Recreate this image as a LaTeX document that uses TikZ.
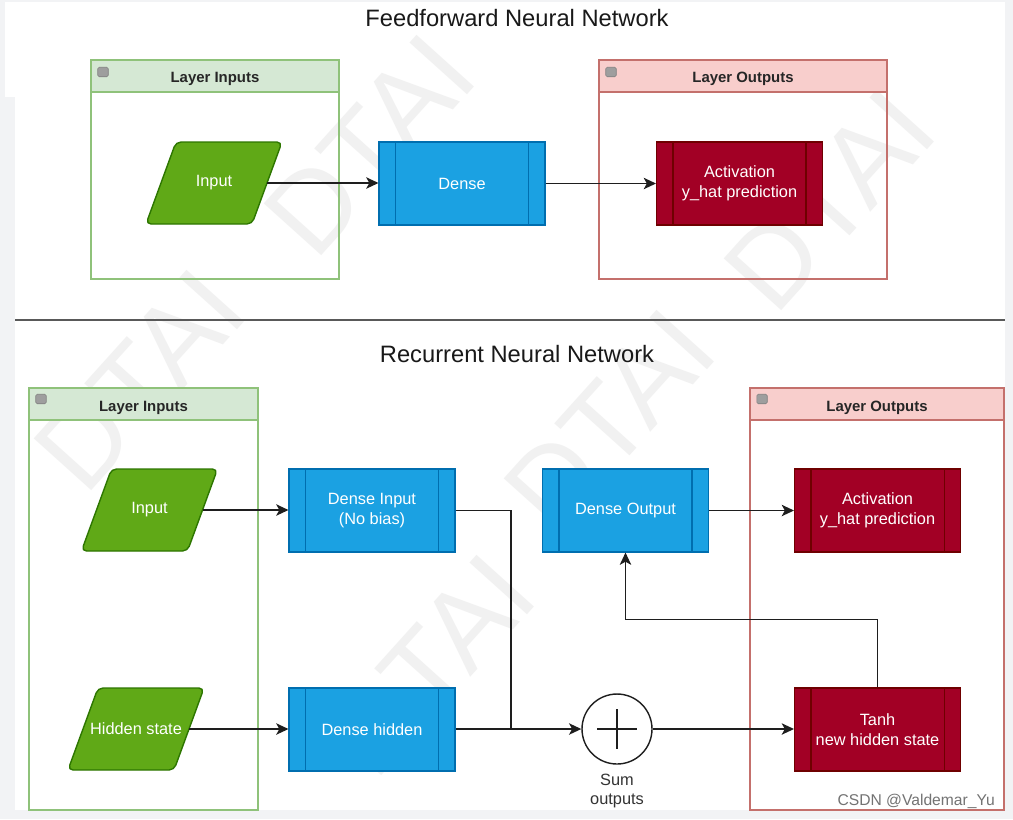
\documentclass[tikz,border=0pt]{standalone}
\usepackage{fontspec}
\setmainfont{Liberation Sans}
\usetikzlibrary{arrows.meta,calc}
\definecolor{bggray}{HTML}{F2F3F5}
\definecolor{gfill}{HTML}{60A917}
\definecolor{gline}{HTML}{2D7600}
\definecolor{bfill}{HTML}{1BA1E2}
\definecolor{bline}{HTML}{006EAF}
\definecolor{rfill}{HTML}{A20025}
\definecolor{rline}{HTML}{6F0000}
\definecolor{ghdr}{HTML}{D5E8D4}
\definecolor{gcont}{HTML}{8FC27A}
\definecolor{rhdr}{HTML}{F8CECC}
\definecolor{rcont}{HTML}{C4706C}
\definecolor{conn}{HTML}{1E1E1E}
\definecolor{wm}{HTML}{F1F1F1}
\newcommand{\mypara}[4]{%
  \coordinate (#1c) at (#2,#3);
  \draw[parashape] ($(#1c)+(-38,-41)$) -- ($(#1c)+(68,-41)$) -- ($(#1c)+(38,41)$) -- ($(#1c)+(-68,41)$) -- cycle;
  \node[paratext] (#1) at (#1c) {#4};}
\begin{document}
\begin{tikzpicture}[x=0.02cm,y=-0.02cm,
  title/.style={font=\fontsize{13.5}{16}\selectfont, text=black!90},
  cont/.style={rectangle, line width=0.7pt, inner sep=0pt},
  hdr/.style={rectangle, line width=0.7pt, minimum height=0.64cm, inner sep=0pt, text height=1.6ex, text depth=0.1ex, font=\bfseries\fontsize{8.5}{10}\selectfont, text=black!85},
  boxtext/.style={text=white, font=\fontsize{9.3}{11.5}\selectfont, align=center},
  proc/.style={rectangle, boxtext, line width=0.6pt, minimum width=3.32cm, minimum height=1.66cm, inner sep=0pt},
  bproc/.style={proc, fill=bfill, draw=bline},
  rproc/.style={proc, fill=rfill, draw=rline},
  parashape/.style={fill=gfill, draw=gline, line width=0.8pt, rounded corners=0.1cm},
  paratext/.style={rectangle, boxtext, minimum width=2.12cm, minimum height=1.66cm, inner sep=0pt},
  line/.style={draw=conn, line width=0.85pt},
  arr/.style={line, -{Stealth[length=7pt,width=6.5pt,inset=1.8pt]}},
  minus/.style={rectangle, fill=black!38, draw=black!50, line width=0.3pt, rounded corners=0.03cm, minimum width=0.21cm, minimum height=0.19cm, inner sep=0pt},
  wmark/.style={text=wm, font=\fontsize{64}{64}\selectfont, rotate=48}
]
\useasboundingbox (0,0) rectangle (1013,819);
\fill[bggray] (0,0) rectangle (1013,819);
\fill[white] (15,2) rectangle (1005,810);
\fill[white] (5,2) rectangle (1005,97);

% watermark
\node[wmark] (wm1) at (370,145) {DTAI};
\node[wmark] (wm2) at (830,200) {DTAI};
\node[wmark] (wm3) at (140,380) {DTAI};
\node[wmark] (wm4) at (610,420) {DTAI};
\node[wmark] (wm5) at (430,665) {DTAI};

% titles and separator
\node[title] (t1) at (517,18) {Feedforward Neural Network};
\node[title] (t2) at (517,354) {Recurrent Neural Network};
\coordinate (sepL) at (15,320);
\coordinate (sepR) at (1005,320);
\draw[draw=black!65, line width=1.1pt] (sepL) -- (sepR);

% ---------- Feedforward ----------
\node[cont, draw=gcont, minimum width=4.96cm, minimum height=4.38cm] (ffin) at (215,169.5) {};
\node[hdr, fill=ghdr, draw=gcont, minimum width=4.96cm, anchor=north] (ffinh) at (ffin.north) {Layer Inputs};
\node[minus] (ffinm) at (103,72) {};
\node[cont, draw=rcont, minimum width=5.76cm, minimum height=4.38cm] (ffout) at (743,169.5) {};
\node[hdr, fill=rhdr, draw=rcont, minimum width=5.76cm, anchor=north] (ffouth) at (ffout.north) {Layer Outputs};
\node[minus] (ffoutm) at (611,72) {};

\mypara{ffinp}{214}{183}{Input}
\node[bproc] (ffdense) at (462,183.5) {Dense};
\node[rproc] (ffact) at (739.5,183.5) {Activation\\y\_hat prediction};

\draw[arr] (ffinp.east) -- (ffinp.east -| ffdense.west);
\draw[arr] (ffdense.east) -- (ffdense.east -| ffact.west);

% ---------- Recurrent ----------
\node[cont, draw=gcont, minimum width=4.58cm, minimum height=8.44cm] (rin) at (143.5,599) {};
\node[hdr, fill=ghdr, draw=gcont, minimum width=4.58cm, anchor=north] (rinh) at (rin.north) {Layer Inputs};
\node[minus] (rinm) at (41,399) {};
\node[cont, draw=rcont, minimum width=5.08cm, minimum height=8.44cm] (rout) at (877,599) {};
\node[hdr, fill=rhdr, draw=rcont, minimum width=5.08cm, anchor=north] (routh) at (rout.north) {Layer Outputs};
\node[minus] (routm) at (762,399) {};

\mypara{rinp}{149.5}{510}{Input}
\mypara{rhid}{136}{729}{Hidden state}

\node[bproc] (rdin) at (372,510.5) {Dense Input\\(No bias)};
\node[bproc] (rdhid) at (372,729.5) {Dense hidden};
\node[bproc] (rdout) at (625.5,510.5) {Dense Output};
\node[rproc] (ract) at (877.5,510.5) {Activation\\y\_hat prediction};
\node[rproc] (rtanh) at (877.5,729.5) {Tanh\\new hidden state};
\foreach \n/\c in {ffdense/bline, ffact/rline, rdin/bline, rdhid/bline, rdout/bline, ract/rline, rtanh/rline}{
  \draw[line width=0.6pt,draw=\c] ($(\n.north west)+(17,0)$) -- ($(\n.south west)+(17,0)$);
  \draw[line width=0.6pt,draw=\c] ($(\n.north east)+(-17,0)$) -- ($(\n.south east)+(-17,0)$);
}

\node[circle, draw=conn, fill=white, line width=0.8pt, minimum size=1.4cm, inner sep=0pt] (sum) at (617,729) {};
\draw[line] ($(sum.center)+(-20,0)$) -- ($(sum.center)+(20,0)$);
\draw[line] ($(sum.center)+(0,-20)$) -- ($(sum.center)+(0,20)$);
\node[font=\fontsize{9.3}{11}\selectfont, text=black!80, align=center] (sumlbl) at (617,791) {Sum\\outputs};

\coordinate (join) at (511,729);
\draw[arr] (rinp.east) -- (rinp.east -| rdin.west);
\draw[arr] (rhid.east) -- (rhid.east -| rdhid.west);
\draw[line] (rdin.east) -| (join);
\draw[arr] (rdhid.east |- sum.west) -- (sum.west);
\draw[arr] (sum.east) -- (sum.east -| rtanh.west);
\draw[arr] (rdout.east) -- (rdout.east -| ract.west);
\draw[arr] (rtanh.north) -- ++(0,-68) -| (rdout.south);

\node[anchor=east, text=black!55, font=\fontsize{8.9}{10}\selectfont] (csdn) at (1001,801) {CSDN @Valdemar\_Yu};
\end{tikzpicture}
\end{document}
